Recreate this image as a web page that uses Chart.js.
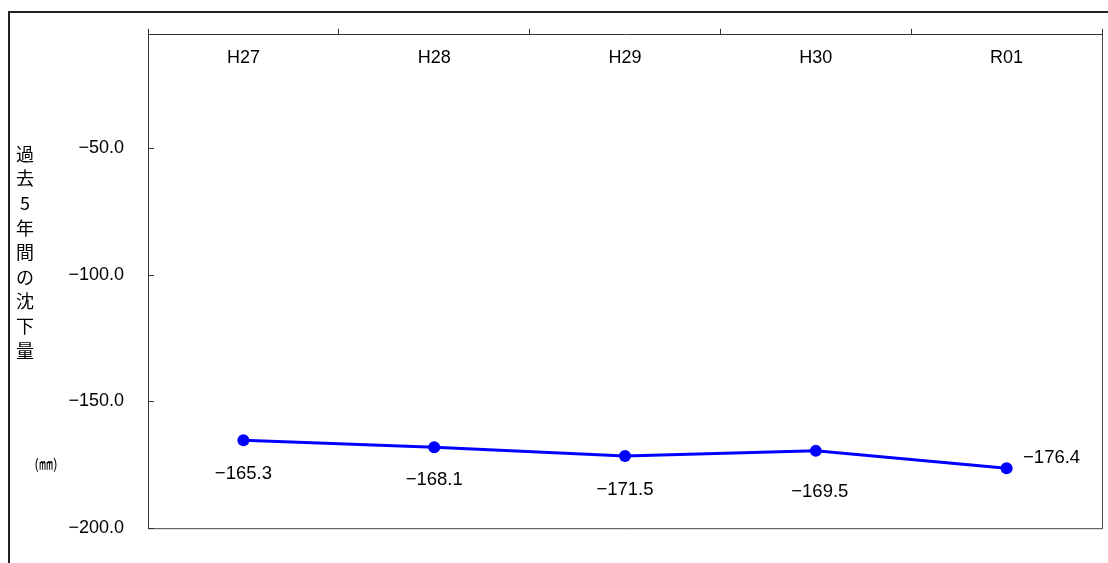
<!DOCTYPE html>
<html>
<head>
<meta charset="utf-8">
<script src="https://cdn.jsdelivr.net/npm/chart.js@4"></script>
<style>
  body { margin: 0; background: #fff; }
</style>
</head>
<body>
<canvas id="chart" width="1108" height="563"></canvas>
<script>
const years = ['H27', 'H28', 'H29', 'H30', 'R01'];
const settlement = [-165.3, -168.1, -171.5, -169.5, -176.4];
const yTicks = [-200, -150, -100, -50];
const yTitle = ['過', '去', '5', '年', '間', 'の', '沈', '下', '量'];
const unitText = '(㎜)';

const numFont = '18.5px "Liberation Sans", Arial, sans-serif';
const jpFont = '18px "Noto Sans CJK JP", sans-serif';

function fmt(v) {
    return (v < 0 ? '\u2212' : '') + Math.abs(v).toFixed(1);
}

// where each value label sits relative to its point
const labelPos = [
    { dx: 0, dy: 34 },
    { dx: 0, dy: 33 },
    { dx: 0, dy: 34 },
    { dx: 4, dy: 41 },
    { dx: 45, dy: -10 }
];

const extras = {
    id: 'extras',
    afterDraw(chart) {
        const ctx = chart.ctx;
        const a = chart.chartArea;
        const ys = chart.scales.y;
        ctx.save();

        // outer frame (left and top)
        ctx.strokeStyle = '#222';
        ctx.lineWidth = 2;
        ctx.beginPath();
        ctx.moveTo(1108, 12);
        ctx.lineTo(9, 12);
        ctx.lineTo(9, 563);
        ctx.stroke();

        // right and bottom edges of plot
        ctx.strokeStyle = '#444';
        ctx.lineWidth = 1;
        ctx.beginPath();
        ctx.moveTo(a.left, a.bottom + 0.5);
        ctx.lineTo(a.right + 0.5, a.bottom + 0.5);
        ctx.lineTo(a.right + 0.5, a.top);
        ctx.stroke();

        // inward tick marks on the value axis
        ctx.strokeStyle = '#333';
        ys.ticks.forEach(t => {
            const py = Math.round(ys.getPixelForValue(t.value)) + 0.5;
            ctx.beginPath();
            ctx.moveTo(a.left, py);
            ctx.lineTo(a.left + 6, py);
            ctx.stroke();
        });

        // vertical axis title
        ctx.fillStyle = '#000';
        ctx.font = jpFont;
        ctx.textAlign = 'center';
        ctx.textBaseline = 'middle';
        yTitle.forEach((ch, i) => {
            ctx.fillText(ch, 25, 154 + i * 24.6);
        });
        ctx.font = '14px "Noto Sans CJK JP", sans-serif';
        ctx.fillText(unitText, 46, 464);

        // value labels
        ctx.font = numFont;
        const meta = chart.getDatasetMeta(0);
        meta.data.forEach((pt, i) => {
            const p = labelPos[i];
            ctx.fillText(fmt(settlement[i]), pt.x + p.dx, pt.y + p.dy);
        });
        ctx.restore();
    }
};

new Chart(document.getElementById('chart'), {
    type: 'line',
    data: {
        labels: years,
        datasets: [{
            data: settlement,
            borderColor: '#0000FF',
            backgroundColor: '#0000FF',
            borderWidth: 3,
            pointRadius: 6,
            pointBackgroundColor: '#0000FF',
            pointBorderWidth: 0,
            tension: 0,
            fill: false
        }]
    },
    options: {
        responsive: false,
        animation: false,
        layout: { padding: { left: 0, top: 0, right: 5, bottom: 33 } },
        plugins: {
            legend: { display: false },
            tooltip: { enabled: false }
        },
        scales: {
            x: {
                position: 'top',
                offset: true,
                afterFit(scale) { scale.height = 33; },
                grid: {
                    offset: true,
                    drawOnChartArea: false,
                    drawTicks: true,
                    tickLength: 6,
                    color: '#333'
                },
                border: { display: true, color: '#333', width: 1 },
                ticks: {
                    color: '#000',
                    font: { family: '"Liberation Sans", Arial, sans-serif', size: 18 },
                    mirror: true,
                    padding: 12,
                    maxRotation: 0
                }
            },
            y: {
                min: -200,
                max: -5.4,
                afterFit(scale) { scale.width = 148; },
                afterBuildTicks(scale) {
                    scale.ticks = yTicks.map(v => ({ value: v }));
                },
                grid: { display: false, drawTicks: false },
                border: { display: true, color: '#333', width: 1 },
                ticks: {
                    color: '#000',
                    font: { family: '"Liberation Sans", Arial, sans-serif', size: 18 },
                    padding: 24,
                    callback: v => fmt(v)
                }
            }
        }
    },
    plugins: [extras]
});
</script>
</body>
</html>
